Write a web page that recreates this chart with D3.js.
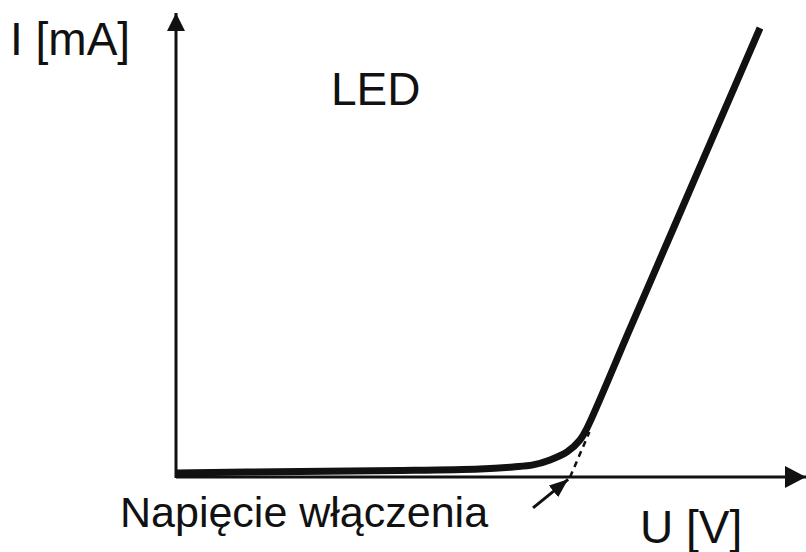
<!DOCTYPE html>
<html><head><meta charset="utf-8">
<script src="https://cdn.jsdelivr.net/npm/d3@7"></script>
<style>html,body{margin:0;padding:0;background:#fff;}svg{display:block;}</style>
</head><body>
<svg id="c" width="806" height="552"></svg>
<script>
// Data: LED I-U characteristic (U in V, I in mA)
const voltage = [0, 0.787, 1.422, 1.93, 2.14, 2.267, 2.375, 2.483, 2.565, 2.610, 2.884, 3.159, 3.433, 3.708];
const current = [0.26, 0.36, 0.42, 0.52, 0.65, 0.78, 1.10, 1.62, 2.39, 3.17, 9.63, 16.10, 22.56, 29.03];
const tangentU = [2.502, 2.625];
const tangentI = [0, 2.91];
const thresholdArrowU = [2.267, 2.49];
const thresholdArrowI = [-2.0, -0.15];
const labels = {yAxis: "I [mA]", xAxis: "U [V]", title: "LED", threshold: "Napięcie włączenia"};

const svg = d3.select("#c");
const x = d3.scaleLinear().domain([0, 4]).range([176, 806]);
const y = d3.scaleLinear().domain([0, 30]).range([477, 13]);

const defs = svg.append("defs");
function marker(id, w, h) {
  defs.append("marker").attr("id", id).attr("viewBox", `0 0 ${w} ${h}`)
    .attr("refX", w).attr("refY", h / 2).attr("markerWidth", w).attr("markerHeight", h)
    .attr("markerUnits", "userSpaceOnUse").attr("orient", "auto")
    .append("path").attr("d", `M0,0L${w},${h/2}L0,${h}Z`).attr("fill", "#111");
}
marker("ax", 21, 22);
marker("ay", 18, 18);
marker("ann", 19, 15);

// axes
svg.append("line").attr("x1", x(0)).attr("y1", y(0)).attr("x2", x(4)).attr("y2", y(0))
  .attr("stroke", "#111").attr("stroke-width", 3).attr("marker-end", "url(#ax)");
svg.append("line").attr("x1", x(0)).attr("y1", y(0) + 1).attr("x2", x(0)).attr("y2", y(30))
  .attr("stroke", "#111").attr("stroke-width", 3).attr("marker-end", "url(#ay)");

// tangent (dashed)
svg.append("path").datum(tangentU.map((u, i) => [u, tangentI[i]]))
  .attr("d", d3.line().x(d => x(d[0])).y(d => y(d[1])))
  .attr("stroke", "#111").attr("stroke-width", 2.5).attr("stroke-dasharray", "6,5").attr("fill", "none");

// curve
svg.append("path").datum(voltage.map((u, i) => [u, current[i]]))
  .attr("d", d3.line().x(d => x(d[0])).y(d => y(d[1])).curve(d3.curveCatmullRom.alpha(0.5)))
  .attr("stroke", "#111").attr("stroke-width", 7).attr("fill", "none").attr("stroke-linejoin", "round");

// annotation arrow
svg.append("line").attr("x1", x(thresholdArrowU[0])).attr("y1", y(thresholdArrowI[0]))
  .attr("x2", x(thresholdArrowU[1])).attr("y2", y(thresholdArrowI[1]))
  .attr("stroke", "#111").attr("stroke-width", 3).attr("marker-end", "url(#ann)");

const font = "'Liberation Sans', Arial, sans-serif";
function txt(t, px, py, size) {
  svg.append("text").attr("x", px).attr("y", py).attr("font-family", font)
    .attr("font-size", size).attr("fill", "#111").text(t);
}
txt(labels.yAxis, 10, 55, 46);
txt(labels.title, 331, 105, 46);
txt(labels.threshold, 120, 527, 43);
txt(labels.xAxis, 640, 543, 46);
</script>
</body></html>
